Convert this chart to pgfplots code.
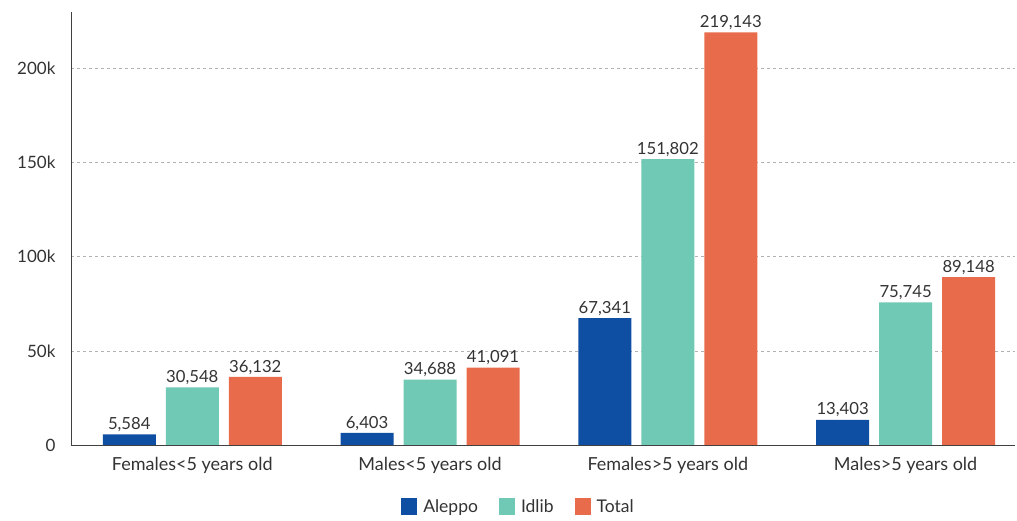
\documentclass[border=0pt]{standalone}
\usepackage{pgfplots}
\pgfplotsset{compat=1.18}
\usepackage{fontspec}
\setmainfont{Lato}
\definecolor{aleppo}{HTML}{0F4FA3}
\definecolor{idlib}{HTML}{6FC9B5}
\definecolor{total}{HTML}{E86B4C}
\definecolor{txt}{HTML}{333333}
\begin{document}
\begin{tikzpicture}
\begin{axis}[
  scale only axis,
  width=944pt, height=433pt,
  xmin=-0.51, xmax=3.46,
  ymin=0, ymax=230000,
  ybar=10pt, bar width=53pt,
  axis lines=left,
  axis line style={-, draw=black!75, line width=0.8pt},
  xtick={0,1,2,3},
  xticklabels={Females<5 years old, Males<5 years old, Females>5 years old, Males>5 years old},
  ytick={0,50000,100000,150000,200000},
  yticklabels={0,50k,100k,150k,200k},
  scaled y ticks=false,
  major tick length=0pt,
  ymajorgrids,
  grid style={dashed, draw=black!30, line width=0.6pt},
  tick label style={font=\fontsize{17}{19}\selectfont, text=txt},
  yticklabel style={xshift=-12pt},
  xticklabel style={font=\fontsize{18}{20}\selectfont, yshift=-9pt},
  nodes near coords={\pgfmathprintnumber[fixed,precision=0,1000 sep={,},assume math mode=true]{\pgfplotspointmeta}},
  every node near coord/.append style={font=\fontsize{16.7}{19}\selectfont, text=txt, yshift=-1pt},
  legend columns=3,
  legend style={at={(0.474,-0.142)}, anchor=center, draw=none, fill=none,
    font=\fontsize{17.5}{20}\selectfont, text=txt,
    /tikz/every odd column/.append style={column sep=4pt},
    /tikz/every even column/.append style={column sep=11pt}},
  legend image code/.code={\fill[#1] (0pt,-8.5pt) rectangle (16pt,8.5pt);},
]
\addplot[fill=aleppo, draw=none] coordinates {(0,5584) (1,6403) (2,67341) (3,13403)};
\addplot[fill=idlib, draw=none] coordinates {(0,30548) (1,34688) (2,151802) (3,75745)};
\addplot[fill=total, draw=none] coordinates {(0,36132) (1,41091) (2,219143) (3,89148)};
\legend{Aleppo\hspace*{8pt}\null, Idlib\hspace*{8pt}\null, Total}
\end{axis}
\pgfresetboundingbox
\path (current axis.south west) ++(-71pt,-76pt) rectangle ++(1017pt,521pt);
\end{tikzpicture}
\end{document}
